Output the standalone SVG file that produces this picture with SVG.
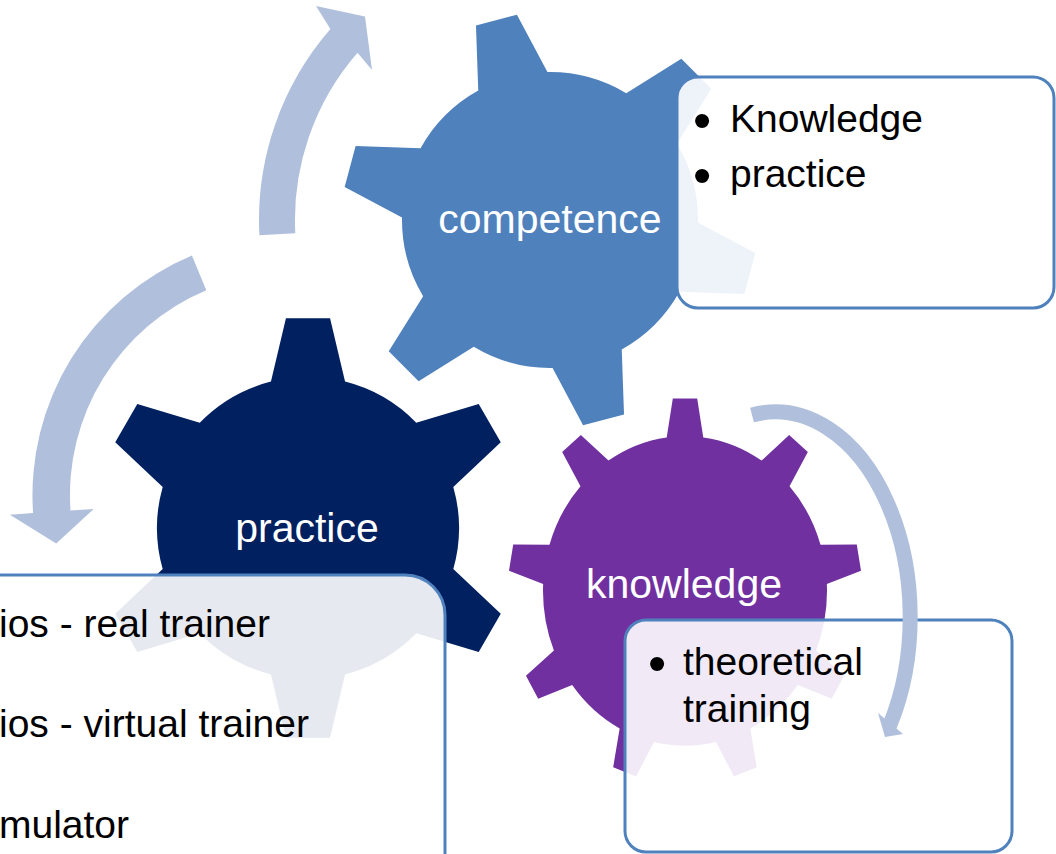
<svg xmlns="http://www.w3.org/2000/svg" width="1056" height="854" viewBox="0 0 1056 854">
<style>
.label{font-family:"Liberation Sans",Arial,sans-serif;font-size:41px;fill:#FFFFFF;text-anchor:middle}
.btext{font-family:"Liberation Sans",Arial,sans-serif;font-size:39px;fill:#000000}
.bullet{font-family:"Liberation Sans",Arial,sans-serif;font-size:52px;fill:#000000;text-anchor:middle}
.box{fill:#FFFFFF;fill-opacity:0.9;stroke:#4F81BD;stroke-width:3}
.arrow{fill:#B0C0DC}
.arrow-line{fill:none;stroke:#B0C0DC;stroke-width:15}
</style>
<rect width="1056" height="854" fill="#FFFFFF"/>
<g id="gear-competence">
<path fill="#4F81BD" d="M697.98,222.58 L755.35,253.08 L744.38,294.03 L679.44,291.75 A148,148 0 0 1 621.75,349.44 L624.03,414.38 L583.08,425.35 L552.58,367.98 A148,148 0 0 1 473.77,346.86 L418.63,381.26 L388.74,351.37 L423.14,296.23 A148,148 0 0 1 402.02,217.42 L344.65,186.92 L355.62,145.97 L420.56,148.25 A148,148 0 0 1 478.25,90.56 L475.97,25.62 L516.92,14.65 L547.42,72.02 A148,148 0 0 1 626.23,93.14 L681.37,58.74 L711.26,88.63 L676.86,143.77 A148,148 0 0 1 697.98,222.58 Z"/>
<text class="label" x="550" y="233">competence</text>
</g>
<g id="gear-practice">
<path fill="#002060" d="M453.30,569.11 L500.76,613.82 L478.70,652.02 L416.25,633.27 A151,151 0 0 1 345.04,674.39 L330.06,737.84 L285.94,737.84 L270.96,674.39 A151,151 0 0 1 199.75,633.27 L137.30,652.02 L115.24,613.82 L162.70,569.11 A151,151 0 0 1 162.70,486.89 L115.24,442.18 L137.30,403.98 L199.75,422.73 A151,151 0 0 1 270.96,381.61 L285.94,318.16 L330.06,318.16 L345.04,381.61 A151,151 0 0 1 416.25,422.73 L478.70,403.98 L500.76,442.18 L453.30,486.89 A151,151 0 0 1 453.30,569.11 Z"/>
<text class="label" x="307" y="542">practice</text>
</g>
<g id="gear-knowledge">
<path fill="#7030A0" transform="translate(685,591) scale(1,1.09)" d="M-18.29,-140.82 L-12.19,-176.58 L12.19,-176.58 L18.29,-140.82 A142,142 0 0 1 76.51,-119.63 L104.16,-143.11 L122.83,-127.44 L104.53,-96.12 A142,142 0 0 1 135.50,-42.46 L171.78,-42.67 L176.01,-18.66 L141.85,-6.44 A142,142 0 0 1 131.10,54.57 L159.02,77.73 L146.82,98.86 L112.81,86.25 A142,142 0 0 1 65.35,126.07 L71.84,161.77 L48.94,170.10 L30.98,138.58 A142,142 0 0 1 -30.98,138.58 L-48.94,170.10 L-71.84,161.77 L-65.35,126.07 A142,142 0 0 1 -112.81,86.25 L-146.82,98.86 L-159.02,77.73 L-131.10,54.57 A142,142 0 0 1 -141.85,-6.44 L-176.01,-18.66 L-171.78,-42.67 L-135.50,-42.46 A142,142 0 0 1 -104.53,-96.12 L-122.83,-127.44 L-104.16,-143.11 L-76.51,-119.63 A142,142 0 0 1 -18.29,-140.82 Z"/>
<text class="label" x="684" y="598">knowledge</text>
</g>
<g id="box-competence">
<rect class="box" x="677" y="77" width="377" height="231" rx="21" ry="21"/>
<text class="bullet" x="702" y="138">•</text>
<text class="btext" x="730" y="132">Knowledge</text>
<text class="bullet" x="702" y="193">•</text>
<text class="btext" x="730" y="187">practice</text>
</g>
<g id="box-practice">
<rect class="box" x="-60" y="575" width="505" height="340" rx="40" ry="40"/>
<text class="btext" x="-1" y="637">ios - real trainer</text>
<text class="btext" x="-1" y="737">ios - virtual trainer</text>
<text class="btext" x="129" y="838" text-anchor="end">mulator</text>
</g>
<g id="box-knowledge">
<rect class="box" x="625" y="620" width="387" height="232" rx="21" ry="21"/>
<text class="bullet" x="657" y="681">•</text>
<text class="btext" x="683" y="675">theoretical</text>
<text class="btext" x="683" y="722">training</text>
</g>
<g id="connectors">
<path class="arrow" d="M259.4,235.2 A291,291 0 0 1 330.4,29.1 L316,6 L365,16.5 L372,70 L357.5,52.7 A255,255 0 0 0 295.3,233.3 Z"/>
<path class="arrow" d="M191.9,255.6 A259.5,259.5 0 0 0 33.1,513.1 L9.9,514.7 L56.2,543.4 L93.7,508.9 L70.5,510.5 A222,222 0 0 1 206.3,290.2 Z"/>
<path class="arrow-line" d="M752,415 A135,205 0 0 1 889.5,726"/>
<polygon class="arrow" points="878,713 903,734 885,737"/>
</g>
</svg>
